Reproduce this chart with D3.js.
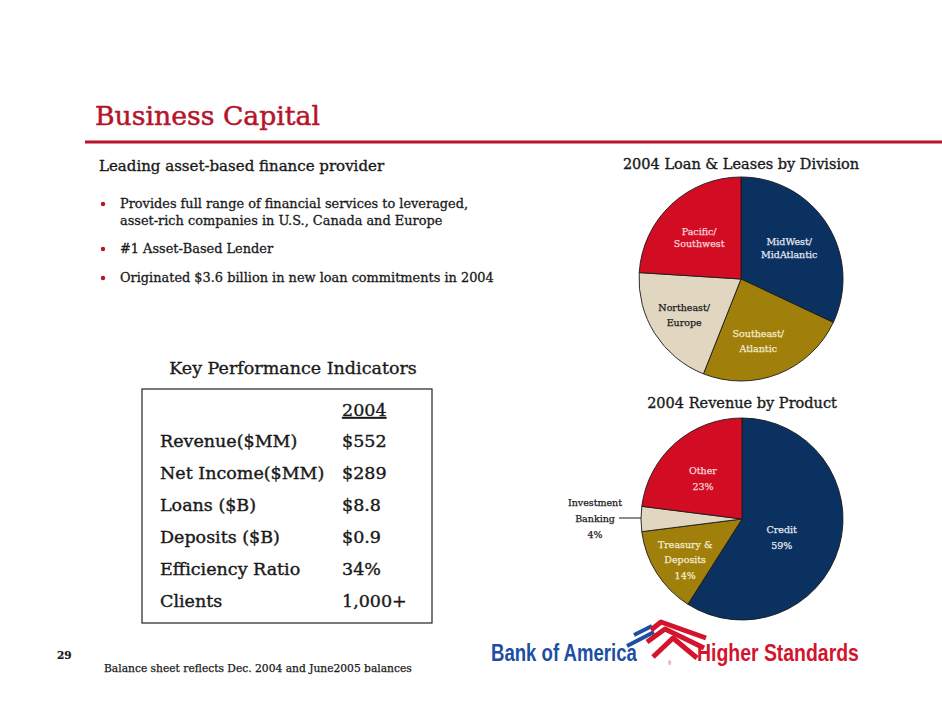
<!DOCTYPE html>
<html>
<head>
<meta charset="utf-8">
<script src="https://cdn.jsdelivr.net/npm/d3@7"></script>
<style>
  body { margin: 0; background: #fff; }
  .serif { font-family: "DejaVu Serif", "Liberation Serif", serif; }
</style>
</head>
<body>
<div id="mainDiv"></div>
<script>
// values
const bullets = [
  ["Provides full range of financial services to leveraged,", "asset-rich companies in U.S., Canada and Europe"],
  ["#1 Asset-Based Lender"],
  ["Originated $3.6 billion in new loan commitments in 2004"]
];
const kpiLabels = ["Revenue($MM)", "Net Income($MM)", "Loans ($B)", "Deposits ($B)", "Efficiency Ratio", "Clients"];
const kpiValues = ["$552", "$289", "$8.8", "$0.9", "34%", "1,000+"];
const kpiYear = "2004";

const divisionLabels = ["MidWest/\nMidAtlantic", "Southeast/\nAtlantic", "Northeast/\nEurope", "Pacific/\nSouthwest"];
const divisionValues = [32, 24, 20, 24];

const productLabels = ["Credit\n59%", "Treasury &\nDeposits\n14%", "Investment\nBanking\n4%", "Other\n23%"];
const productValues = [59, 14, 4, 23];

const chartSize = { width: 942, height: 728 };
const red = "#b5152b";
const ink = "#1a1a1a";
const sliceColors = ["#0b3161", "#a07f0b", "#e1d6bf", "#d20d23"];

const svg = d3.select("#mainDiv")
  .append("svg")
  .attr("width", chartSize.width)
  .attr("height", chartSize.height)
  .attr("viewBox", [0, 0, chartSize.width, chartSize.height]);

svg.append("rect").attr("width", chartSize.width).attr("height", chartSize.height).attr("fill", "#fff");

// serif text with a hairline stroke so it reads as heavy as the slide
function label(parent, x, y, str, size, color, weight) {
  return parent.append("text")
    .attr("class", "serif")
    .attr("x", x).attr("y", y)
    .attr("fill", color)
    .attr("stroke", color)
    .attr("stroke-width", weight == undefined ? 0.35 : weight)
    .attr("font-size", size)
    .text(str);
}

// header
label(svg, 95, 125, "Business Capital", 26.7, red, 0.5);

svg.append("line")
  .attr("x1", 85).attr("x2", 942)
  .attr("y1", 142).attr("y2", 142)
  .attr("stroke", red)
  .attr("stroke-width", 3);

label(svg, 99, 171, "Leading asset-based finance provider", 15, ink);

// bullet list
let bulletY = [208, 253, 282];
bullets.forEach((lines, i) => {
  svg.append("circle")
    .attr("cx", 103).attr("cy", bulletY[i] - 4)
    .attr("r", 2.2)
    .attr("fill", red);
  lines.forEach((line, j) => {
    label(svg, 120, bulletY[i] + j * 17, line, 12.9, ink, 0.3);
  });
});

// KPI table
label(svg, 293, 374, "Key Performance Indicators", 17.5, ink).attr("text-anchor", "middle");

svg.append("rect")
  .attr("x", 142).attr("y", 389)
  .attr("width", 290).attr("height", 234)
  .attr("fill", "none")
  .attr("stroke", "#222")
  .attr("stroke-width", 1.2);

const rowY = d3.scaleLinear().domain([0, kpiLabels.length - 1]).range([447, 607]);

label(svg, 342, 416, kpiYear, 17.5, ink).attr("text-decoration", "underline");

kpiLabels.forEach((d, i) => label(svg, 160, rowY(i), d, 17.5, ink, 0.4));
kpiValues.forEach((d, i) => label(svg, 342, rowY(i), d, 17.5, ink, 0.4));

// pies
function drawPie(values, labels, cx, cy, radius, title, titleY, labelOpts) {
  const pie = d3.pie().sort(null).value(d => d);
  const arc = d3.arc().innerRadius(0).outerRadius(radius);
  const arcs = pie(values);
  const g = svg.append("g").attr("transform", `translate(${cx},${cy})`);

  g.selectAll("path")
    .data(arcs)
    .join("path")
    .attr("d", arc)
    .attr("fill", (d, i) => sliceColors[i])
    .attr("stroke", ink)
    .attr("stroke-width", 0.9);

  label(svg, cx, titleY, title, 14.5, ink).attr("text-anchor", "middle");

  arcs.forEach((d, i) => {
    const opt = labelOpts[i];
    const mid = (d.startAngle + d.endAngle) / 2;
    let lx, ly;
    if (opt.outside) {
      const edge = [Math.sin(mid) * radius, -Math.cos(mid) * radius];
      g.append("line")
        .attr("x1", edge[0]).attr("y1", edge[1] - 1)
        .attr("x2", edge[0] - opt.leader).attr("y2", edge[1] - 1)
        .attr("stroke", ink)
        .attr("stroke-width", 1);
      lx = edge[0] - opt.leader - opt.offset;
      ly = edge[1];
    } else {
      const r = radius * opt.r;
      lx = Math.sin(mid) * r + (opt.dx || 0);
      ly = -Math.cos(mid) * r;
    }
    const lines = labels[i].split("\n");
    const t = g.append("text")
      .attr("class", "serif")
      .attr("text-anchor", "middle")
      .attr("fill", opt.color)
      .attr("stroke", opt.color)
      .attr("stroke-width", 0.25)
      .attr("font-size", 9.5);
    lines.forEach((line, j) => {
      t.append("tspan")
        .attr("x", lx)
        .attr("y", ly + (j - (lines.length - 1) / 2) * opt.lh + 3.5 + (opt.dy || 0))
        .text(line);
    });
  });
}

drawPie(divisionValues, divisionLabels, 741, 279, 102,
  "2004 Loan & Leases by Division", 169,
  [
    { r: 0.56, lh: 13, color: "#e3e8f1" },
    { r: 0.62, lh: 15, color: "#f4ecd0", dx: -6, dy: 3 },
    { r: 0.66, lh: 15, color: ink },
    { r: 0.6, lh: 12, color: "#fbd5da", dy: 3 }
  ]);

drawPie(productValues, productLabels, 742, 519, 101,
  "2004 Revenue by Product", 408,
  [
    { r: 0.43, lh: 16, color: "#e3e8f1", dx: -2, dy: 6 },
    { r: 0.69, lh: 15.5, color: "#f4ecd0", dx: 2, dy: 3.5 },
    { outside: true, leader: 22, offset: 24, lh: 16, color: ink, dy: -0.5 },
    { r: 0.57, lh: 16, color: "#fbd5da", dx: -1, dy: 3 }
  ]);

// footer
label(svg, 57, 659, "29", 10.5, ink, 0.2).attr("font-weight", "bold");
label(svg, 104, 672, "Balance sheet reflects Dec. 2004 and June2005 balances", 10.7, ink, 0.25);

// logo: bold sans squeezed to the slide's widths
const logo = svg.append("g");
function logoText(x, y, str, width, color) {
  const t = logo.append("text")
    .style("font-family", "'Liberation Sans Narrow', 'Liberation Sans', Arial, sans-serif")
    .attr("font-weight", "bold")
    .attr("font-size", 23.5)
    .attr("fill", color)
    .text(str);
  const len = t.node().getComputedTextLength();
  t.attr("transform", `translate(${x},${y}) scale(${width / len},1)`);
}
logoText(491, 661, "Bank of America", 146, "#1c4fa3");
logoText(697, 661, "Higher Standards", 162, "#d3142c");

// flag mark: two blue bars rising, three red chevrons sweeping down-right
const blueStripes = ["M627,646 L654,632", "M634,635 L652,626"];
blueStripes.forEach(p => logo.append("path")
  .attr("d", p)
  .attr("stroke", "#1c4fa3").attr("stroke-width", 4)
  .attr("fill", "none"));

const redStripes = [
  "M651,630 L661,622 L706,638",
  "M647,642 L665,629 L704,648",
  "M653,657 L673,638 L697,658"
];
redStripes.forEach(p => logo.append("path")
  .attr("d", p)
  .attr("stroke", "#d3142c").attr("stroke-width", 5)
  .attr("stroke-linejoin", "round")
  .attr("fill", "none"));

logo.append("text")
  .style("font-family", "'Liberation Sans', sans-serif")
  .attr("x", 668).attr("y", 665)
  .attr("font-size", 4.5)
  .attr("fill", "#d3142c")
  .text("®");
</script>
</body>
</html>
